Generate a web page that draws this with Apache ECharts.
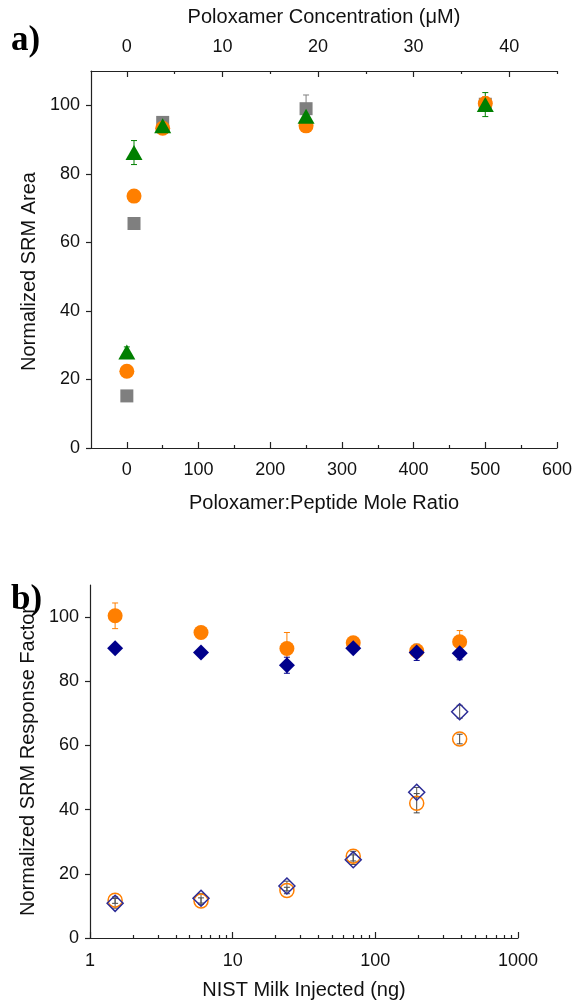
<!DOCTYPE html>
<html><head><meta charset="utf-8">
<script src="https://cdn.jsdelivr.net/npm/echarts@6/dist/echarts.min.js"></script>
<style>html,body{margin:0;padding:0;background:#fff}#c{width:575px;height:1004px}</style>
</head><body><div id="c"></div>
<script>
// ---------- Panel a data ----------
const ratioX = [0, 10, 50, 250, 500];
const grayY = [15.2, 65.5, 95, 99, 100.3];
const grayErr = [0.6, 0.8, 1, 4, 2];
const orangeY = [22.4, 73.5, 93.3, 94, 100.5];
const orangeErr = [1, 1, 1, 1.5, 2];
const greenY = [28, 86.2, 94, 96.8, 100.2];
const greenErr = [1.5, 3.5, 1, 2, 3.5];
const ratioTicks = [0, 100, 200, 300, 400, 500, 600];
const ratioMinor = [50, 150, 250, 350, 450, 550];
const concTicks = [0, 10, 20, 30, 40];
const concMinor = [5, 15, 25, 35, 45];
const areaTicks = [0, 20, 40, 60, 80, 100];
// ---------- Panel b data ----------
const milkX = [1.5, 6, 24, 70, 195, 390];
const filledCircleY = [100.4, 95.2, 90.2, 92, 89.5, 92.3];
const filledCircleErr = [4, 1.5, 5, 1, 2, 3.5];
const filledDiamondY = [90.3, 89, 85, 90.3, 89, 88.7];
const filledDiamondErr = [1, 1, 2.5, 1, 2.5, 2];
const openCircleY = [11.8, 11.5, 14.8, 25.5, 42, 62];
const openCircleErr = [1, 1, 1, 1.5, 3, 1.5];
const openDiamondY = [10.8, 12.4, 16.2, 24.4, 45.4, 70.5];
const openDiamondErr = [1.5, 1.5, 1.5, 1.5, 1.5, 2];
const milkTicks = [1, 10, 100, 1000];
const milkMinor = [2,3,4,5,6,7,8,9,20,30,40,50,60,70,80,90,200,300,400,500,600,700,800,900];
const factorTicks = [0, 20, 40, 60, 80, 100];

const FONT = 'Liberation Sans, Arial, sans-serif';
const ORANGE = '#FF7F00', GRAY = '#7F7F7F', GREEN = '#007F00', NAVY = '#00008B', OPENNAVY = '#2B2B96';
const AX = {onZero: false, lineStyle: {color: '#222', width: 1.2}};
const AXH = {show: false, onZero: false};
const TK = {color: '#222', width: 1.2};

function pts(xs, ys, es) { return xs.map((x, i) => es ? [x, ys[i], es[i]] : [x, ys[i]]); }

function errRender(color) {
  return function (params, api) {
    const x = api.value(0), y = api.value(1), e = api.value(2);
    const hi = api.coord([x, y + e]), lo = api.coord([x, y - e]);
    const w = 3;
    const st = {stroke: color, lineWidth: 1};
    return {type: 'group', children: [
      {type: 'line', shape: {x1: hi[0], y1: hi[1], x2: lo[0], y2: lo[1]}, style: st},
      {type: 'line', shape: {x1: hi[0] - w, y1: hi[1], x2: hi[0] + w, y2: hi[1]}, style: st},
      {type: 'line', shape: {x1: lo[0] - w, y1: lo[1], x2: lo[0] + w, y2: lo[1]}, style: st}
    ]};
  };
}
function errSeries(xi, yi, xs, ys, es, color) {
  return {type: 'custom', xAxisIndex: xi, yAxisIndex: yi, renderItem: errRender(color),
    data: pts(xs, ys, es), silent: true, z: 3};
}
function scat(xi, yi, xs, ys, symbol, size, style) {
  return {type: 'scatter', xAxisIndex: xi, yAxisIndex: yi, symbol: symbol, symbolSize: size,
    data: pts(xs, ys), itemStyle: Object.assign({opacity: 1}, style), z: 3};
}

const labelStyle = {fontFamily: FONT, fontSize: 18, color: '#111'};
const nameStyle = {fontFamily: FONT, fontSize: 20, color: '#111'};

const option = {
  animation: false,
  backgroundColor: '#fff',
  grid: [
    {left: 91, right: 18, top: 71, height: 377},
    {left: 90, right: 57, top: 585, height: 353}
  ],
  graphic: [
    {type: 'text', left: 11, top: 23, style: {text: 'a)', font: 'bold 35px "Liberation Serif", serif', fill: '#000'}},
    {type: 'text', left: 11, top: 582, style: {text: 'b)', font: 'bold 35px "Liberation Serif", serif', fill: '#000'}}
  ],
  xAxis: [
    {gridIndex: 0, type: 'value', position: 'bottom', min: -50, max: 600, splitLine: {show: false},
      axisLine: AX, axisTick: {inside: true, length: 6, customValues: ratioTicks, lineStyle: TK},
      axisLabel: Object.assign({customValues: ratioTicks, margin: 13}, labelStyle),
      name: 'Poloxamer:Peptide Mole Ratio', nameLocation: 'middle', nameGap: 45, nameTextStyle: nameStyle},
    {gridIndex: 0, type: 'value', position: 'bottom', min: -50, max: 600, splitLine: {show: false},
      axisLine: AXH, axisTick: {inside: true, length: 3, customValues: ratioMinor, lineStyle: TK},
      axisLabel: {show: false}},
    {gridIndex: 0, type: 'value', position: 'top', min: -3.75, max: 45, splitLine: {show: false},
      axisLine: AX, axisTick: {inside: true, length: 6, customValues: concTicks, lineStyle: TK},
      axisLabel: Object.assign({customValues: concTicks, margin: 15}, labelStyle),
      name: 'Poloxamer Concentration (μM)', nameLocation: 'middle', nameGap: 44, nameTextStyle: nameStyle},
    {gridIndex: 0, type: 'value', position: 'top', min: -3.75, max: 45, splitLine: {show: false},
      axisLine: AXH, axisTick: {inside: true, length: 3, customValues: concMinor, lineStyle: TK},
      axisLabel: {show: false}},
    {gridIndex: 1, type: 'log', logBase: 10, position: 'bottom', min: 1, max: 1000, splitLine: {show: false},
      axisLine: AX, axisTick: {inside: true, length: 6, lineStyle: TK},
      axisLabel: Object.assign({margin: 14, formatter: v => String(v)}, labelStyle),
      name: 'NIST Milk Injected (ng)', nameLocation: 'middle', nameGap: 42, nameTextStyle: nameStyle},
    {gridIndex: 1, type: 'log', logBase: 10, position: 'bottom', min: 1, max: 1000, splitLine: {show: false},
      axisLine: AXH, axisTick: {inside: true, length: 3, customValues: milkMinor, lineStyle: TK},
      axisLabel: {show: false}}
  ],
  yAxis: [
    {gridIndex: 0, type: 'value', min: 0, max: 110, splitLine: {show: false},
      axisLine: AX, axisTick: {length: 5, customValues: areaTicks, lineStyle: TK},
      axisLabel: Object.assign({customValues: areaTicks, margin: 11}, labelStyle),
      name: 'Normalized SRM Area', nameLocation: 'middle', nameGap: 51,
      nameTextStyle: Object.assign({padding: [0, 24, 0, 0]}, nameStyle)},
    {gridIndex: 1, type: 'value', min: 0, max: 110, splitLine: {show: false},
      axisLine: AX, axisTick: {length: 5, customValues: factorTicks, lineStyle: TK},
      axisLabel: Object.assign({customValues: factorTicks, margin: 11}, labelStyle),
      name: 'Normalized SRM Response Factor', nameLocation: 'middle', nameGap: 50, nameTextStyle: nameStyle}
  ],
  series: [
    errSeries(0, 0, ratioX, grayY, grayErr, GRAY),
    scat(0, 0, ratioX, grayY, 'rect', 13, {color: GRAY}),
    errSeries(0, 0, ratioX, orangeY, orangeErr, ORANGE),
    scat(0, 0, ratioX, orangeY, 'circle', 15, {color: ORANGE}),
    errSeries(0, 0, ratioX, greenY, greenErr, GREEN),
    scat(0, 0, ratioX, greenY, 'triangle', [17, 15], {color: GREEN}),

    errSeries(4, 1, milkX, filledCircleY, filledCircleErr, ORANGE),
    scat(4, 1, milkX, filledCircleY, 'circle', 15, {color: ORANGE}),
    errSeries(4, 1, milkX, filledDiamondY, filledDiamondErr, NAVY),
    scat(4, 1, milkX, filledDiamondY, 'diamond', [16, 16], {color: NAVY}),
    errSeries(4, 1, milkX, openCircleY, openCircleErr, '#444'),
    scat(4, 1, milkX, openCircleY, 'circle', 14, {color: 'rgba(255,255,255,0)', borderColor: ORANGE, borderWidth: 1.5}),
    errSeries(4, 1, milkX, openDiamondY, openDiamondErr, '#555'),
    scat(4, 1, milkX, openDiamondY, 'diamond', [16, 16], {color: 'rgba(255,255,255,0)', borderColor: OPENNAVY, borderWidth: 1.5})
  ]
};
const chart = echarts.init(document.getElementById('c'), null, {renderer: 'canvas'});
chart.setOption(option);
</script>
</body></html>
